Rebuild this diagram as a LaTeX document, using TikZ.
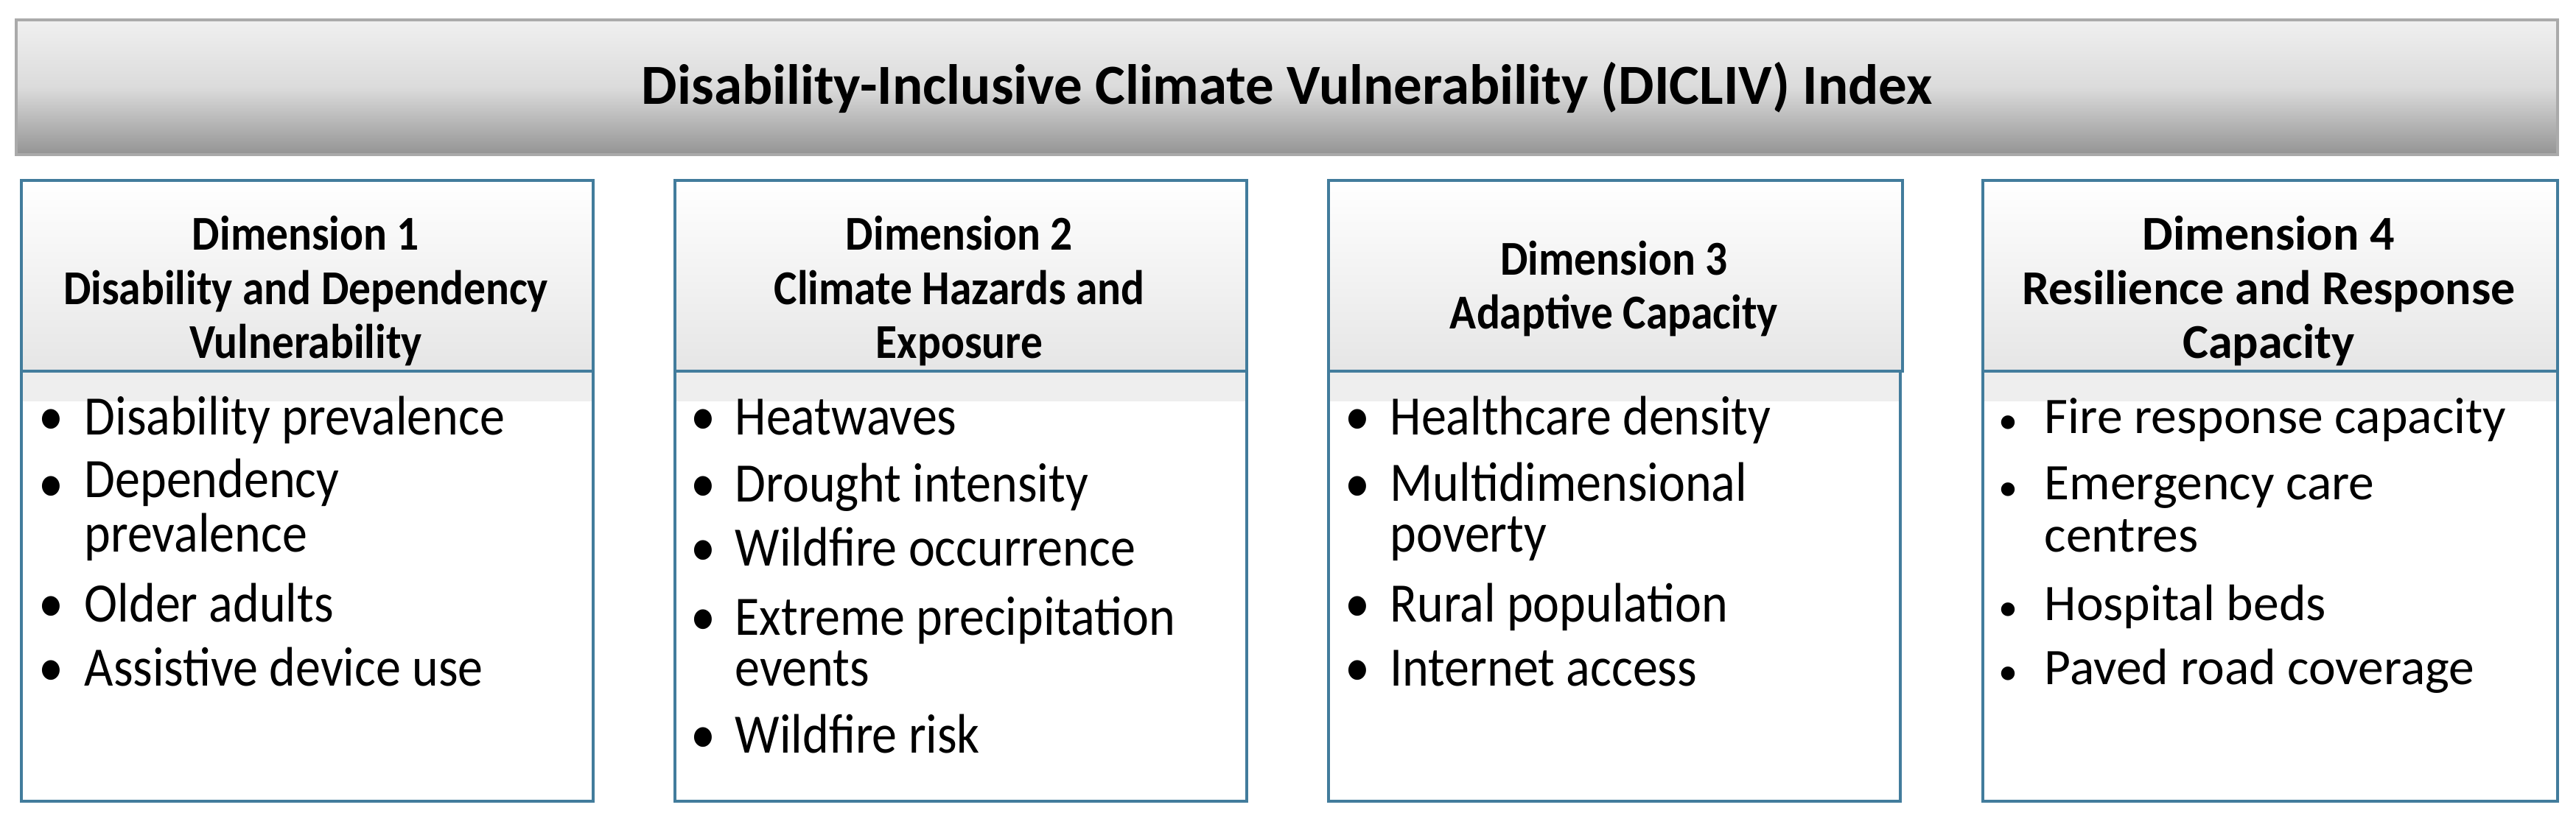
\documentclass[tikz,border=0pt]{standalone}
\usepackage{fontspec}
\setmainfont{Carlito}
\newfontfamily\condfont[FakeStretch=0.9]{Carlito}
\definecolor{boxblue}{RGB}{66,124,156}
\definecolor{titleline}{RGB}{170,170,170}
\newcommand{\bodyA}{\condfont\fontsize{21.5}{18}\selectfont}
\newcommand{\bodyB}{\fontsize{19.8}{20}\selectfont}
\newcommand{\hdrA}{\condfont\fontsize{18.8}{21}\bfseries\selectfont}
\newcommand{\hdrB}{\fontsize{18.8}{21}\bfseries\selectfont}
\newcommand{\curfont}{\bodyA}
\newcommand{\curbul}{\textbullet}
% one-line item: name, bullet x, text x, baseline y, text
\newcommand{\myitem}[5]{%
  \node[bul] (#1b) at (#2,#4) {\curbul};
  \node[itm] (#1) at (#3,#4) {#5};}
% two-line item: name, bullet x, text x, first baseline y, last baseline y, text
\newcommand{\myitemtwo}[6]{%
  \node[bul] (#1b) at (#2,#4) {\curbul};
  \node[itm] (#1) at (#3,#5) {#6};}
\tikzset{
  titlebar/.style={draw=titleline, line width=1pt, top color=black!6, bottom color=black!42, middle color=black!14, shading angle=0, inner sep=0, minimum width=34.49cm, minimum height=1.83cm, font=\fontsize{21.9}{24}\bfseries\selectfont},
  hdrbox/.style={draw=boxblue, line width=1.2pt, top color=white, bottom color=black!10, anchor=north west, minimum width=7.76cm, minimum height=2.59cm, inner sep=0},
  bodybox/.style={draw=boxblue, line width=1.2pt, fill=white, anchor=north west, minimum width=7.76cm, minimum height=5.84cm, inner sep=0,
     path picture={\shade[top color=black!7, bottom color=white] (path picture bounding box.north west) rectangle ([yshift=-0.4cm]path picture bounding box.north east);}},
  hdrtext/.style={align=center, inner sep=0},
  bul/.style={anchor=base, inner sep=0, font=\curfont},
  itm/.style={anchor=base west, inner sep=0, font=\curfont, align=left},
}
\begin{document}
\begin{tikzpicture}
\useasboundingbox (0,0) rectangle (34.96,-11.22);
\fill[white] (0,0) rectangle (34.96,-11.22);

\node[titlebar] (title) at (17.465,-1.185) {Disability-Inclusive Climate Vulnerability (DICLIV) Index};

% Box 1
\node[bodybox] (b1) at (0.27,-5.02) {};
\node[hdrbox] (h1) at (0.27,-2.43) {};
\node[hdrtext, font=\hdrA] (h1t) at (4.15,-3.95) {Dimension 1\\Disability and Dependency\\Vulnerability};
\renewcommand{\curfont}{\bodyA}
\myitem{i11}{0.69}{1.14}{-5.90}{Disability prevalence}
\myitemtwo{i12}{0.69}{1.14}{-6.81}{-7.49}{Dependency\\[1.5pt]prevalence}
\myitem{i13}{0.69}{1.14}{-8.44}{Older adults}
\myitem{i14}{0.69}{1.14}{-9.31}{Assistive device use}

% Box 2
\node[bodybox] (b2) at (9.14,-5.02) {};
\node[hdrbox] (h2) at (9.14,-2.43) {};
\node[hdrtext, font=\hdrA] (h2t) at (13.02,-3.95) {Dimension 2\\Climate Hazards and\\Exposure};
\myitem{i21}{9.54}{9.97}{-5.90}{Heatwaves}
\myitem{i22}{9.54}{9.97}{-6.81}{Drought intensity}
\myitem{i23}{9.54}{9.97}{-7.68}{Wildfire occurrence}
\myitemtwo{i24}{9.54}{9.97}{-8.62}{-9.31}{Extreme precipitation\\[1.5pt]events}
\myitem{i25}{9.54}{9.97}{-10.22}{Wildfire risk}

% Box 3
\node[bodybox] (b3) at (18.01,-5.02) {};
\node[hdrbox, minimum width=7.79cm] (h3) at (18.01,-2.43) {};
\node[hdrtext, font=\hdrA] (h3t) at (21.905,-3.92) {Dimension 3\\Adaptive Capacity};
\myitem{i31}{18.42}{18.86}{-5.90}{Healthcare density}
\myitemtwo{i32}{18.42}{18.86}{-6.81}{-7.49}{Multidimensional\\[1.5pt]poverty}
\myitem{i33}{18.42}{18.86}{-8.44}{Rural population}
\myitem{i34}{18.42}{18.86}{-9.31}{Internet access}

% Box 4
\node[bodybox, minimum width=7.80cm] (b4) at (26.89,-5.02) {};
\node[hdrbox, minimum width=7.80cm] (h4) at (26.89,-2.43) {};
\node[hdrtext, font=\hdrB] (h4t) at (30.79,-3.95) {Dimension 4\\Resilience and Response\\Capacity};
\renewcommand{\curfont}{\bodyB}
\renewcommand{\curbul}{\scalebox{0.75}{\textbullet}}
\myitem{i41}{27.25}{27.74}{-5.88}{Fire response capacity}
\myitemtwo{i42}{27.25}{27.74}{-6.79}{-7.49}{Emergency care\\centres}
\myitem{i43}{27.25}{27.74}{-8.42}{Hospital beds}
\myitem{i44}{27.25}{27.74}{-9.29}{Paved road coverage}
\end{tikzpicture}
\end{document}
